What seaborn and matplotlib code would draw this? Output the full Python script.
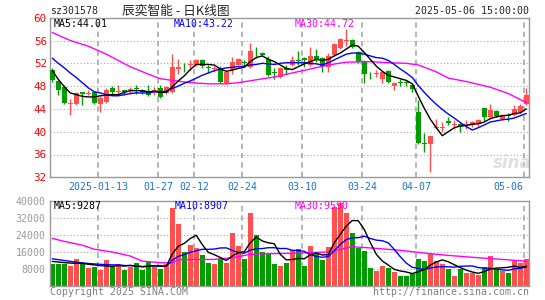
import numpy as np
import pandas as pd
import matplotlib
matplotlib.use("Agg")
import matplotlib.pyplot as plt
import seaborn as sns

# ---------------- data ----------------
dates = ["12-31", "01-02", "01-03", "01-06", "01-07", "01-08", "01-09", "01-10",
         "01-13", "01-14", "01-15", "01-16", "01-17", "01-20", "01-21", "01-22",
         "01-23", "01-24", "01-27", "02-05", "02-06", "02-07", "02-10", "02-11",
         "02-12", "02-13", "02-14", "02-17", "02-18", "02-19", "02-20", "02-21",
         "02-24", "02-25", "02-26", "02-27", "02-28", "03-03", "03-04", "03-05",
         "03-06", "03-07", "03-10", "03-11", "03-12", "03-13", "03-14", "03-17",
         "03-18", "03-19", "03-20", "03-21", "03-24", "03-25", "03-26", "03-27",
         "03-28", "03-31", "04-01", "04-02", "04-03", "04-07", "04-08", "04-09",
         "04-10", "04-11", "04-14", "04-15", "04-16", "04-17", "04-18", "04-21",
         "04-22", "04-23", "04-24", "04-25", "04-28", "04-29", "04-30", "05-06"]

open_ = [50.9, 48.9, 47.9, 44.8, 44.8, 46.9, 46.6, 47.0, 44.8, 45.2,
         47.7, 47.0, 47.4, 47.3, 47.6, 47.3, 47.2, 47.0, 47.6, 46.8,
         47.0, 51.0, 51.9, 51.7, 51.7, 52.6, 51.3, 51.0, 51.1, 48.5,
         50.8, 51.7, 52.2, 51.3, 54.0, 53.8, 52.7, 50.4, 49.6, 51.1,
         51.7, 52.5, 52.9, 51.7, 53.3, 52.9, 51.3, 53.5, 54.6, 55.9,
         56.1, 54.0, 52.3, 50.0, 50.1, 49.2, 50.7, 48.1, 48.7, 48.7,
         48.2, 43.4, 38.0, 37.8, 40.6, 40.6, 41.9, 41.1, 41.4, 41.1,
         41.1, 41.3, 44.1, 42.6, 43.6, 42.3, 43.0, 42.9, 43.5, 44.9]
close = [49.0, 47.4, 45.1, 45.0, 46.8, 46.6, 46.8, 45.1, 46.0, 47.4,
         47.0, 47.2, 46.9, 47.5, 47.5, 46.9, 46.4, 47.4, 46.1, 47.9,
         51.4, 51.3, 51.8, 51.9, 52.6, 51.5, 51.1, 51.2, 48.8, 50.4,
         52.3, 52.7, 52.1, 54.2, 53.9, 53.4, 49.9, 50.3, 51.1, 50.8,
         52.6, 52.4, 52.5, 53.3, 52.8, 51.5, 53.3, 55.4, 56.2, 56.1,
         54.9, 52.3, 50.2, 49.9, 50.3, 50.4, 48.8, 48.6, 48.6, 48.5,
         47.5, 38.0, 37.9, 39.2, 40.8, 40.8, 41.5, 41.3, 40.8, 41.3,
         41.7, 42.1, 42.5, 43.8, 42.7, 42.9, 42.7, 43.9, 44.5, 46.5]
high = [51.1, 49.0, 48.2, 45.8, 46.9, 47.0, 47.4, 47.1, 46.2, 47.6,
        48.0, 48.2, 47.4, 47.8, 48.2, 47.5, 48.2, 47.9, 48.2, 48.0,
        53.6, 52.7, 52.1, 52.6, 52.7, 52.7, 51.7, 51.6, 51.5, 50.5,
        53.1, 52.9, 52.5, 55.5, 54.9, 54.0, 53.2, 51.1, 51.3, 51.7,
        53.3, 54.2, 53.1, 54.8, 54.5, 53.1, 53.8, 55.5, 56.4, 58.0,
        56.3, 54.2, 52.5, 50.5, 50.8, 50.6, 50.9, 48.7, 49.2, 49.1,
        48.3, 45.6, 39.7, 39.3, 42.3, 41.7, 42.6, 42.0, 41.5, 42.0,
        41.9, 42.2, 44.2, 44.8, 43.8, 43.1, 43.2, 44.6, 44.8, 47.6]
low = [48.8, 46.4, 44.9, 42.9, 44.7, 44.6, 46.4, 44.8, 43.5, 45.1,
       46.7, 46.4, 46.4, 46.7, 46.7, 46.7, 46.2, 46.4, 46.0, 46.7,
       46.8, 50.2, 50.5, 50.9, 51.5, 51.2, 50.3, 50.4, 48.5, 48.4,
       50.2, 51.5, 51.3, 51.1, 52.9, 53.2, 49.8, 49.2, 49.5, 50.2,
       51.5, 51.7, 51.4, 51.5, 52.2, 50.5, 50.5, 53.3, 54.5, 55.1,
       54.7, 52.1, 48.6, 49.3, 49.6, 48.5, 48.6, 47.4, 48.1, 48.0,
       46.9, 37.8, 36.5, 32.9, 40.4, 40.0, 41.2, 40.4, 39.9, 40.4,
       40.8, 40.9, 41.9, 42.3, 42.5, 42.1, 41.9, 42.7, 43.2, 44.6]
volume = [10400, 10400, 10400, 9280, 12800, 10400, 8320, 8800, 7520, 12320,
          9120, 10400, 7520, 9120, 10720, 7520, 11200, 9120, 8000, 10400,
          36800, 29120, 16000, 19520, 17920, 14720, 11040, 10400, 13120, 10720,
          25120, 19040, 12800, 34240, 23840, 16000, 14880, 10400, 9280, 10880,
          16800, 17600, 9280, 19040, 14880, 12160, 18400, 37280, 38880, 34400,
          25120, 17920, 16480, 8320, 6880, 9280, 8320, 6400, 4480, 4480,
          5600, 12480, 11680, 14880, 12000, 10400, 8000, 4800, 8000, 6080,
          6080, 4960, 8800, 14080, 8160, 6880, 6080, 11680, 10880, 12480]

# price moving averages (as drawn on the chart)
ma5 = [50.7, 49.2, 47.9, 46.8, 46.5, 46.2, 46.1, 46.1, 46.3, 46.4,
       46.5, 46.5, 46.9, 47.2, 47.2, 47.2, 47.0, 47.1, 46.9, 46.9,
       47.9, 48.9, 49.8, 50.9, 51.8, 51.8, 51.8, 51.7, 51.0, 50.6,
       50.8, 51.1, 51.3, 52.3, 53.0, 53.3, 52.7, 52.3, 51.7, 51.1,
       50.9, 51.4, 51.9, 52.3, 52.7, 52.5, 52.7, 53.3, 53.8, 54.5,
       55.2, 55.0, 53.9, 52.7, 51.5, 50.6, 49.9, 49.6, 49.3, 49.0,
       48.4, 46.2, 44.1, 42.2, 40.7, 39.3, 40.0, 40.7, 41.0, 41.1,
       41.3, 41.4, 41.7, 42.3, 42.6, 42.8, 42.9, 43.2, 43.3, 44.0]
ma10 = [52.9, 52.0, 51.2, 50.3, 49.5, 48.6, 47.7, 47.0, 46.8, 46.5,
        46.3, 46.3, 46.5, 46.7, 46.8, 46.8, 46.8, 47.0, 47.0, 47.1,
        47.6, 48.0, 48.5, 48.9, 49.4, 49.9, 50.3, 50.7, 51.0, 51.2,
        51.3, 51.4, 51.5, 51.7, 51.8, 52.0, 51.9, 51.8, 52.0, 52.1,
        52.1, 52.1, 52.1, 52.0, 51.9, 51.7, 52.1, 52.6, 53.1, 53.6,
        53.8, 53.8, 53.6, 53.3, 53.0, 52.9, 52.5, 51.8, 51.0, 50.3,
        49.5, 48.1, 46.9, 45.8, 44.8, 43.9, 43.1, 42.4, 41.6, 40.9,
        40.3, 40.7, 41.2, 41.7, 41.9, 42.1, 42.2, 42.4, 42.8, 43.2]
ma30_idx = [0, 3, 6, 9, 13, 16, 18, 20, 23, 26, 29, 31, 34, 37, 40, 43,
            46, 49, 53, 56, 59, 61, 64, 66, 69, 73, 76, 79]
ma30 = [57.4, 56.0, 55.0, 53.6, 51.4, 50.1, 49.3, 49.0, 48.6, 48.4, 48.4,
        48.6, 49.1, 49.6, 50.3, 51.0, 51.7, 52.2, 52.3, 52.1, 52.0, 51.7,
        50.5, 49.4, 48.8, 47.8, 46.7, 45.1]

# volume moving averages (as drawn on the chart)
vma5 = [11600, 11300, 11000, 10800, 10660, 10660, 10240, 9920, 9570, 9470,
        9220, 9630, 9380, 9700, 9380, 9060, 9220, 9540, 9310, 9250,
        15100, 18690, 20060, 22370, 23870, 19460, 15840, 14720, 13440, 12000,
        14080, 15680, 16160, 20380, 23010, 21180, 20350, 19870, 14880, 12290,
        12450, 12990, 12770, 14720, 15520, 14590, 14750, 20350, 24320, 28220,
        30820, 30720, 26560, 20450, 14940, 11780, 9860, 7840, 7070, 6590,
        5860, 6690, 7740, 9820, 11330, 12290, 11390, 10020, 8640, 7460,
        6590, 5980, 6780, 8000, 8420, 8580, 8800, 9380, 8740, 9290]
vma10 = [12800, 12400, 12000, 11600, 11200, 10900, 10600, 10400, 10200, 10060,
         9940, 9940, 9650, 9630, 9420, 9140, 9420, 9460, 9500, 9310,
         12080, 13950, 14800, 15840, 16560, 17280, 17260, 17390, 17900, 17940,
         16770, 15760, 15440, 16910, 17500, 17630, 18020, 18020, 17630, 17650,
         16820, 16670, 16320, 14800, 13900, 13520, 13870, 16560, 19520, 21870,
         22700, 22740, 23460, 22380, 21580, 21300, 20290, 17200, 13760, 10770,
         8820, 8270, 7790, 8450, 8960, 9070, 9040, 8880, 9230, 9390,
         9440, 8690, 8400, 8320, 7940, 7580, 7390, 8080, 8370, 8910]
vma30_idx = [0, 2, 5, 7, 10, 13, 15, 18, 20, 21, 24, 27, 30, 33, 36, 40,
             46, 50, 54, 58, 62, 66, 71, 75, 79]
vma30 = [22400, 21000, 19200, 17300, 16000, 14100, 11700, 11000, 10800, 12400,
         12500, 12500, 13300, 14900, 15200, 15400, 16000, 18500, 17700, 16800,
         15500, 14400, 13300, 12500, 11700]

tick_idx = [8, 18, 24, 32, 42, 52, 61, 79]
tick_lbl = ["2025-01-13", "01-27", "02-12", "02-24", "03-10", "03-24", "04-07", "05-06"]
price_ticks = [32, 36, 40, 44, 48, 52, 56, 60]
vol_ticks = [8000, 16000, 24000, 32000, 40000]

title_code = "sz301578"
title_name = "辰奕智能 - 日K线图"
title_time = "2025-05-06 15:00:00"
leg_price = ["MA5:44.01", "MA10:43.22", "MA30:44.72"]
leg_vol = ["MA5:9287", "MA10:8907", "MA30:9590"]

# ---------------- style ----------------
sns.set_style("white")
plt.rcParams["font.family"] = ["DejaVu Sans Mono", "DejaVu Sans"]
RED = "#ff5050"
GREEN = "#009c00"
FRAME = "#9a9a9a"
GRID = "#a8a8a8"
BLUE_TXT = "#1874cd"
MONO = ["DejaVu Sans Mono", "DejaVu Sans"]
FS = 7.1

W, H = 545, 300
fig = plt.figure(figsize=(W / 100, H / 100), dpi=100)
fig.patch.set_facecolor("white")

L, R = 50.3, 529.0
PT, PB = 17.7, 177.3
VT, VB = 201.0, 286.0
ax = fig.add_axes([L / W, 1 - PB / H, (R - L) / W, (PB - PT) / H])
axv = fig.add_axes([L / W, 1 - VB / H, (R - L) / W, (VB - VT) / H])

x = np.arange(len(dates))
o = np.array(open_); c = np.array(close)
up = c >= o
cols = np.where(up, RED, GREEN)
XL = (-0.33, 79.45)

# ---------------- frames & grids ----------------
for a in (ax, axv):
    a.set_facecolor("white")
    for s in a.spines.values():
        s.set_color(FRAME)
        s.set_linewidth(1.0)
    for t in tick_idx:
        a.axvline(t - 0.3, color=GRID, lw=1.2, dashes=(3.2, 2.4), zorder=0.5)

for v in price_ticks[1:-1]:
    ax.axhline(v, color=GRID, lw=0.8, dashes=(1, 2), zorder=0.5)

# ---------------- price panel ----------------
ax.text((512 - L) / (R - L), (PB - 163) / (PB - PT), "sina", transform=ax.transAxes,
        ha="center", va="center", color="#e0e0e0", fontsize=12, fontweight="bold",
        style="italic", family=["DejaVu Sans"], zorder=1)

ax.vlines(x, low, high, colors=cols, lw=1.0, zorder=2)
body_bot = np.minimum(o, c)
body_h = np.maximum(np.abs(c - o), 0.12)
ax.bar(x, body_h, bottom=body_bot, width=0.8, color=cols, linewidth=0, zorder=3)

sns.lineplot(x=ma30_idx, y=ma30, color="#ff00ff", lw=1.0, ax=ax, estimator=None, legend=False, zorder=4)
sns.lineplot(x=x, y=ma10, color="#0000ff", lw=1.0, ax=ax, estimator=None, legend=False, zorder=4)
sns.lineplot(x=x, y=ma5, color="#000000", lw=1.0, ax=ax, estimator=None, legend=False, zorder=5)

ax.set_xlim(*XL)
ax.set_ylim(32, 60)
ax.set_yticks(price_ticks)
ax.set_yticklabels([str(v) for v in price_ticks], color="#ff0000", fontsize=7.8, family=MONO)
ax.set_xticks([])
ax.tick_params(axis="y", length=0, pad=2.6)
ax.set_xlabel(""); ax.set_ylabel("")

for t, lbl in zip(tick_idx, tick_lbl):
    if t == tick_idx[-1]:
        ax.text(t - 0.3 - 0.25, -0.059, lbl, transform=ax.get_xaxis_transform(),
                ha="right", va="center", color=BLUE_TXT, fontsize=FS, family=MONO)
    else:
        ax.text(t - 0.3, -0.059, lbl, transform=ax.get_xaxis_transform(),
                ha="center", va="center", color=BLUE_TXT, fontsize=FS, family=MONO)

lx = [(54 - L) / (R - L), (174 - L) / (R - L), (295 - L) / (R - L)]
lcol = ["#000000", "#0000ff", "#ff00ff"]
for xx, s, cc in zip(lx, leg_price, lcol):
    ax.text(xx, (PB - 23.7) / (PB - PT), s, transform=ax.transAxes, ha="left", va="center",
            color=cc, fontsize=FS, family=MONO, zorder=6)

# ---------------- volume panel ----------------
for v in vol_ticks[:-1]:
    axv.axhline(v, color=GRID, lw=0.8, dashes=(1, 2), zorder=0.5)

vdf = pd.DataFrame({"i": x, "vol": volume, "dir": np.where(up, "up", "down")})
sns.barplot(data=vdf, x="i", y="vol", hue="dir", palette={"up": RED, "down": GREEN},
            native_scale=True, dodge=False, width=0.82, errorbar=None, legend=False,
            saturation=1, linewidth=0, ax=axv, zorder=2)

sns.lineplot(x=vma30_idx, y=vma30, color="#ff00ff", lw=1.0, ax=axv, estimator=None, legend=False, zorder=4)
sns.lineplot(x=x, y=vma10, color="#0000ff", lw=1.0, ax=axv, estimator=None, legend=False, zorder=4)
sns.lineplot(x=x, y=vma5, color="#000000", lw=1.0, ax=axv, estimator=None, legend=False, zorder=5)

axv.set_xlim(*XL)
axv.set_ylim(0, 40000)
axv.set_yticks(vol_ticks)
axv.set_yticklabels([str(v) for v in vol_ticks], color="#9a9a9a", fontsize=FS, family=MONO)
axv.set_xticks([])
axv.tick_params(axis="y", length=0, pad=3.6)
axv.set_xlabel(""); axv.set_ylabel("")

for xx, s, cc in zip([(54 - L) / (R - L), (175 - L) / (R - L), (295 - L) / (R - L)], leg_vol, lcol):
    axv.text(xx, (VB - 206) / (VB - VT), s, transform=axv.transAxes, ha="left", va="center",
             color=cc, fontsize=FS, family=MONO, zorder=6)

# ---------------- header / footer ----------------
fig.text(50 / W, 1 - 11.5 / H, title_code, ha="left", va="center", fontsize=FS, family=MONO)
fig.text(122 / W, 1 - 11.5 / H, title_name, ha="left", va="center", fontsize=9.2,
         family=["Noto Sans CJK SC", "DejaVu Sans"])
fig.text(529 / W, 1 - 11.5 / H, title_time, ha="right", va="center", fontsize=FS, family=MONO)
fig.text(50 / W, 1 - 292 / H, "Copyright 2025 SINA.COM", ha="left", va="center",
         fontsize=FS, color="#808080", family=MONO)
fig.text(529 / W, 1 - 292 / H, "http://finance.sina.com.cn", ha="right", va="center",
         fontsize=FS, color="#808080", family=MONO)

fig.savefig("out.png", dpi=100, facecolor="white")
